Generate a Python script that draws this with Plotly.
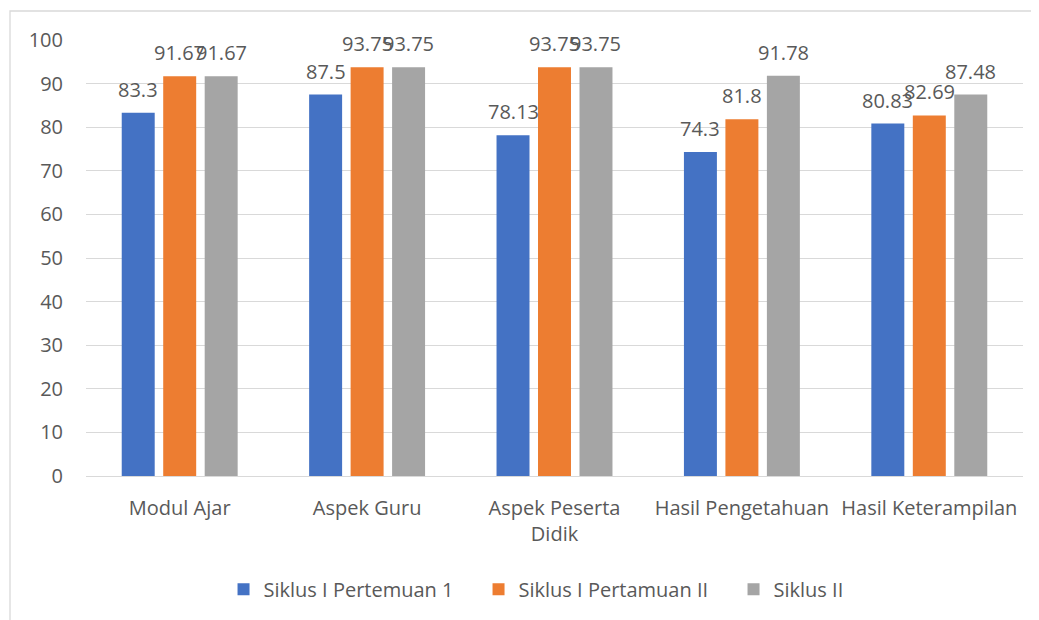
import plotly.graph_objects as go

categories = ["Modul Ajar", "Aspek Guru", "Aspek Peserta<br>Didik", "Hasil Pengetahuan", "Hasil Keterampilan"]
series_names = ["Siklus I Pertemuan 1", "Siklus I Pertamuan II", "Siklus II"]
siklus1_p1 = [83.3, 87.5, 78.13, 74.3, 80.83]
siklus1_p2 = [91.67, 93.75, 93.75, 81.8, 82.69]
siklus2 = [91.67, 93.75, 93.75, 91.78, 87.48]
y_ticks = [0, 10, 20, 30, 40, 50, 60, 70, 80, 90, 100]

colors = ["#4472C4", "#ED7D31", "#A5A5A5"]
text_color = "#595959"
FONT = "Open Sans"

# page body has an 8px margin, so the figure is offset by (8, 8)
W, H = 1039, 620
ML, MR, MT, MB = 78, 24, 32, 152
BARGAP = 0.336
BARGROUPGAP = 0.205

fig = go.Figure()
all_series = [siklus1_p1, siklus1_p2, siklus2]
for name, vals, col in zip(series_names, all_series, colors):
    fig.add_trace(go.Bar(
        x=categories, y=vals, name=name,
        marker=dict(color=col, line=dict(width=0)),
        hoverinfo="x+y+name",
    ))

# data labels above bars (outside end, Excel style)
plot_w = W - ML - MR
plot_h = H - MT - MB
slot = plot_w / len(categories) * (1 - BARGAP) / len(all_series)
for i, vals in enumerate(all_series):
    off = (i - (len(all_series) - 1) / 2) * slot
    for c, v in zip(categories, vals):
        fig.add_annotation(
            x=c, y=v, text=str(v), showarrow=False,
            xanchor="center", yanchor="bottom",
            xshift=off, yshift=8,
            font=dict(family=FONT, size=20, color=text_color),
        )

# chart border (Excel chart area outline)
fig.add_shape(
    type="rect", xref="paper", yref="paper",
    x0=(2 - ML) / plot_w, x1=1.2,
    y0=-1.0, y1=(H - MB - 3) / plot_h,
    line=dict(color="#D9D9D9", width=1.3), fillcolor="rgba(0,0,0,0)", layer="below",
)

fig.update_layout(
    width=W, height=H,
    margin=dict(l=ML, r=MR, t=MT, b=MB),
    paper_bgcolor="white", plot_bgcolor="white",
    barmode="group", bargap=BARGAP, bargroupgap=BARGROUPGAP,
    font=dict(family=FONT, size=20, color=text_color),
    showlegend=True,
    legend=dict(
        orientation="h", x=0.555, xanchor="center", y=-0.26, yanchor="middle",
        font=dict(family=FONT, size=20, color=text_color),
        entrywidth=210, entrywidthmode="pixels",
        bgcolor="rgba(0,0,0,0)", itemclick=False, itemdoubleclick=False,
    ),
    xaxis=dict(
        tickangle=0, showgrid=False, showline=False, zeroline=False,
        ticks="outside", ticklen=14, tickcolor="rgba(0,0,0,0)",
        tickfont=dict(family=FONT, size=20, color=text_color),
    ),
    yaxis=dict(
        range=[0, 100], tickvals=y_ticks, showgrid=True, gridcolor="#D9D9D9", gridwidth=1.3,
        zeroline=True, zerolinecolor="#D9D9D9", zerolinewidth=1.3, showline=False,
        ticks="outside", ticklen=18, tickcolor="rgba(0,0,0,0)",
        tickfont=dict(family=FONT, size=20, color=text_color),
    ),
)

fig.write_html("out.html")
